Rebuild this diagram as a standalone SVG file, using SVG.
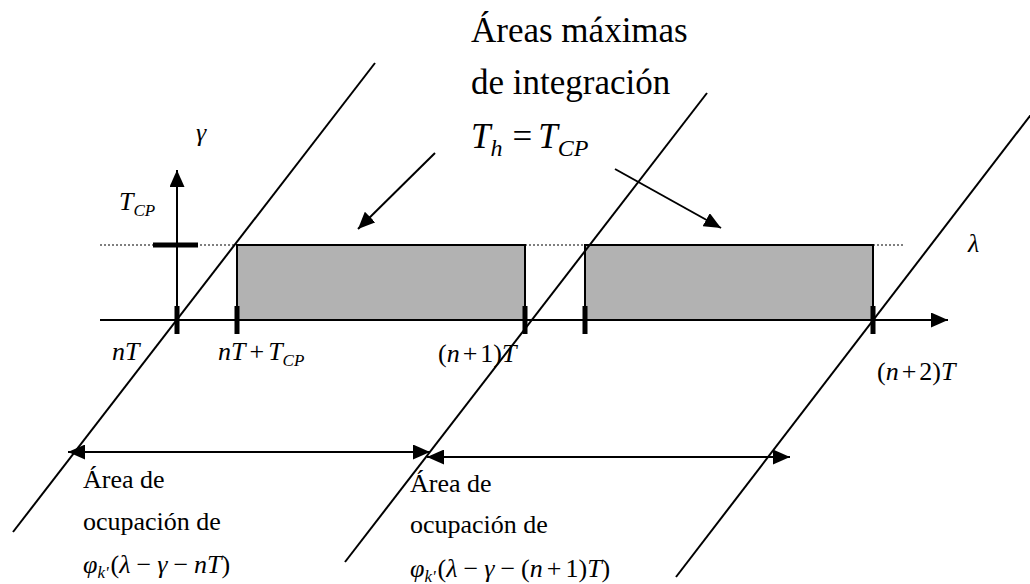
<svg xmlns="http://www.w3.org/2000/svg" width="1030" height="584" viewBox="0 0 1030 584" font-family="'Liberation Serif', 'Times New Roman', 'DejaVu Serif', serif">
<style>
.ln{stroke:#000;stroke-width:2;fill:none}
.dot{stroke:#000;stroke-width:1.2;stroke-dasharray:2 2;fill:none}
.tk{fill:#000}
.box{fill:#b2b2b2;stroke:#000;stroke-width:2}
text{fill:#000}
.big{font-size:35px}
.m{font-size:26px}
.lab{font-size:26px}
.i{font-style:italic}
.sub{font-size:17px;font-style:italic}
</style>
<defs>
<marker id="ahb" viewBox="0 0 10 10" refX="10" refY="5" markerWidth="17" markerHeight="15" markerUnits="userSpaceOnUse" orient="auto" preserveAspectRatio="none">
<path d="M0,0 L10,5 L0,10 z" fill="#000"/>
</marker>
</defs>

<g id="areas">
<rect class="box" x="237" y="245" width="288" height="75"/>
<rect class="box" x="585" y="245" width="288" height="75"/>
</g>

<g id="guides">
<line class="dot" x1="100" y1="245" x2="237" y2="245"/>
<line class="dot" x1="525" y1="245" x2="585" y2="245"/>
<line class="dot" x1="873" y1="245" x2="905" y2="245"/>
</g>

<g id="axes">
<line class="ln" x1="100" y1="320" x2="948" y2="320" marker-end="url(#ahb)"/>
<line class="ln" x1="177" y1="320" x2="177" y2="170" marker-end="url(#ahb)"/>
<rect class="tk" x="153" y="242.5" width="45" height="5"/>
<rect class="tk" x="174.5" y="306" width="5" height="28"/>
<rect class="tk" x="234.5" y="306" width="5" height="28"/>
<rect class="tk" x="522.5" y="306" width="5" height="28"/>
<rect class="tk" x="582.5" y="306" width="5" height="28"/>
<rect class="tk" x="870.5" y="306" width="5" height="28"/>
</g>

<g id="connectors">
<line class="ln" x1="375" y1="63" x2="13" y2="532"/>
<line class="ln" x1="707" y1="93" x2="345" y2="562"/>
<line class="ln" x1="1036" y1="108" x2="676" y2="577"/>
<line class="ln" x1="435" y1="153" x2="358" y2="229" marker-end="url(#ahb)"/>
<line class="ln" x1="615" y1="169" x2="721" y2="228" marker-end="url(#ahb)"/>
<line class="ln" x1="249" y1="452" x2="68" y2="452" marker-end="url(#ahb)"/>
<line class="ln" x1="249" y1="452" x2="430" y2="452" marker-end="url(#ahb)"/>
<line class="ln" x1="608" y1="457" x2="427" y2="457" marker-end="url(#ahb)"/>
<line class="ln" x1="608" y1="457" x2="790" y2="457" marker-end="url(#ahb)"/>
</g>

<g id="title">
<text class="big" x="471" y="42">Áreas máximas</text>
<text class="big" x="471" y="94">de integración</text>
<text class="big" x="471" y="148"><tspan class="i">T</tspan><tspan class="i" font-size="24" dy="8">h</tspan><tspan dx="10" dy="-8">=</tspan><tspan class="i" dx="6">T</tspan><tspan class="i" font-size="24" dy="8">CP</tspan></text>
</g>

<g id="axis-labels">
<text class="m i" x="196" y="141">γ</text>
<text class="m" x="119" y="210"><tspan class="i">T</tspan><tspan class="sub" dy="6">CP</tspan></text>
<text class="m i" x="968" y="252">λ</text>
<text class="m" x="112" y="360"><tspan class="i">nT</tspan></text>
<text class="m" x="218" y="360"><tspan class="i">nT</tspan><tspan dx="4">+</tspan><tspan class="i" dx="4">T</tspan><tspan class="sub" dy="6">CP</tspan></text>
<text class="m" x="438" y="362">(<tspan class="i">n</tspan><tspan dx="3">+</tspan><tspan dx="3">1)</tspan><tspan class="i">T</tspan></text>
<text class="m" x="877" y="380">(<tspan class="i">n</tspan><tspan dx="3">+</tspan><tspan dx="3">2)</tspan><tspan class="i">T</tspan></text>
</g>

<g id="occupation-1">
<text class="lab" x="83" y="488">Área de</text>
<text class="lab" x="83" y="530">ocupación de</text>
<text class="m" x="83" y="573"><tspan class="i">φ</tspan><tspan class="sub" font-size="14" dy="5">k'</tspan><tspan dx="2" dy="-5">(</tspan><tspan class="i">λ</tspan><tspan dx="6">−</tspan><tspan class="i" dx="6">γ</tspan><tspan dx="6">−</tspan><tspan class="i" dx="6">nT</tspan>)</text>
</g>

<g id="occupation-2">
<text class="lab" x="410" y="492">Área de</text>
<text class="lab" x="410" y="533">ocupación de</text>
<text class="m" x="410" y="577"><tspan class="i">φ</tspan><tspan class="sub" font-size="14" dy="5">k'</tspan><tspan dx="2" dy="-5">(</tspan><tspan class="i">λ</tspan><tspan dx="6">−</tspan><tspan class="i" dx="6">γ</tspan><tspan dx="6">−</tspan><tspan dx="6">(</tspan><tspan class="i">n</tspan><tspan dx="4">+</tspan><tspan dx="4">1)</tspan><tspan class="i">T</tspan>)</text>
</g>
</svg>
